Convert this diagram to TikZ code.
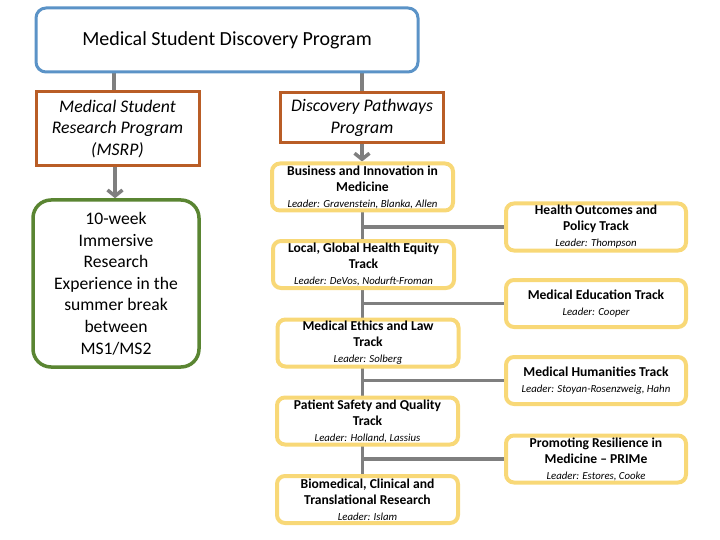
\documentclass[tikz,border=0pt]{standalone}
\usepackage{fontspec}
\setmainfont{Carlito}
\usetikzlibrary{arrows.meta,backgrounds}
\definecolor{topblue}{HTML}{5B93C7}
\definecolor{progorange}{HTML}{B95D26}
\definecolor{msgreen}{HTML}{5A8532}
\definecolor{trackyellow}{HTML}{F8D877}
\definecolor{linkgray}{HTML}{7F7F7F}
\newcommand{\trackleader}[1]{{\mdseries\itshape\fontsize{10.8}{16}\selectfont Leader: #1}}
\begin{document}
\begin{tikzpicture}[x=1pt,y=-1pt,
    top/.style = {draw=topblue, line width=3pt, rounded corners=10pt, fill=white, minimum width=382pt, minimum height=64pt, font=\fontsize{20}{24}\selectfont},
    prog/.style = {draw=progorange, line width=3pt, fill=white, minimum width=163pt, align=center, inner sep=0pt, font=\fontsize{17.7}{21.5}\selectfont\itshape},
    summer/.style = {draw=msgreen, line width=3.5pt, rounded corners=18pt, fill=white, minimum width=166pt, minimum height=167pt, align=center, inner sep=0pt, font=\fontsize{17.6}{21.6}\selectfont},
    track/.style = {draw=trackyellow, line width=4pt, rounded corners=8pt, fill=white, minimum width=181pt, minimum height=47pt, align=center, inner sep=0pt, font=\fontsize{13.6}{16}\selectfont\bfseries},
    link/.style = {draw=linkgray, line width=3.5pt},
    flow/.style = {link, -{Straight Barb[length=6pt,width=15pt]}}]
    \useasboundingbox (0,0) rectangle (720,540);
    \node[top] (1) at (227,40) {Medical Student Discovery Program};
    \node[prog, minimum height=74pt] (2) at (117.5,129) {Medical Student\\Research Program\\(MSRP)};
    \node[prog, minimum height=50pt] (3) at (362,118) {Discovery Pathways\\Program};
    \node[summer] (4) at (116,283.5) {10-week\\Immersive\\Research\\Experience in the\\summer break\\between\\MS1/MS2};
    \node[track] (5) at (362.5,187) {Business and Innovation in\\Medicine\\\trackleader{Gravenstein, Blanka, Allen}};
    \node[track] (6) at (363.5,264.5) {Local, Global Health Equity\\Track\\\trackleader{DeVos, Nodurft-Froman}};
    \node[track] (7) at (368,343) {Medical Ethics and Law\\Track\\\trackleader{Solberg}};
    \node[track] (8) at (367.5,421) {Patient Safety and Quality\\Track\\\trackleader{Holland, Lassius}};
    \node[track] (9) at (367.5,499.5) {Biomedical, Clinical and\\Translational Research\\\trackleader{Islam}};
    \node[track, minimum width=180pt] (10) at (596,227) {Health Outcomes and\\Policy Track\\\trackleader{Thompson}};
    \node[track, minimum width=180pt] (11) at (596,303.5) {Medical Education Track\\\trackleader{Cooper}};
    \node[track, minimum width=180pt] (12) at (596,380.5) {Medical Humanities Track\\\trackleader{Stoyan-Rosenzweig, Hahn}};
    \node[track, minimum width=180pt] (13) at (596,459) {Promoting Resilience in\\Medicine -- PRIMe\\\trackleader{Estores, Cooke}};
    \begin{scope}[on background layer]
        \draw[link] (2.north -| 114,0) -- (1.south -| 114,0);
        \draw[link] (3.north) -- (3.north |- 1.south);
        \draw[flow] (2.south -| 115,0) -- (4.north -| 115,0);
        \draw[flow] (3.south) -- (3.south |- 5.north);
        \draw[link] (5.south) -- (5.south |- 9.north);
        \draw[link] (10.west -| 5.south) -- (10.west);
        \draw[link] (11.west -| 5.south) -- (11.west);
        \draw[link] (12.west -| 5.south) -- (12.west);
        \draw[link] (13.west -| 5.south) -- (13.west);
    \end{scope}
\end{tikzpicture}
\end{document}
